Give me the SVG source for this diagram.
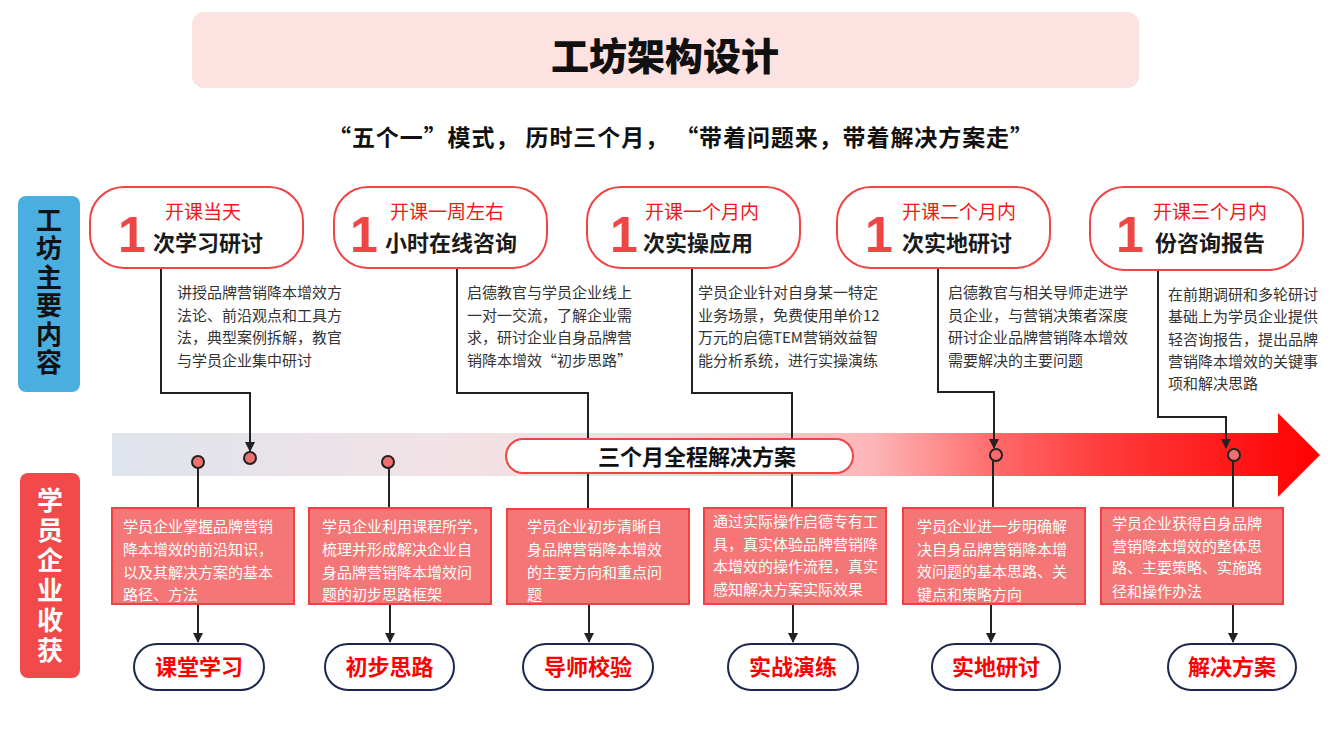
<svg xmlns="http://www.w3.org/2000/svg" width="1330" height="748" viewBox="0 0 1330 748">
<defs>
<linearGradient id="band" gradientUnits="userSpaceOnUse" x1="112" y1="0" x2="1320" y2="0">
<stop offset="0" stop-color="#dfe4ec"/>
<stop offset="0.27" stop-color="#f1e2e6"/>
<stop offset="0.45" stop-color="#f5dadd"/>
<stop offset="0.63" stop-color="#fdb5b8"/>
<stop offset="0.735" stop-color="#ff6868"/>
<stop offset="0.82" stop-color="#ff3c3c"/>
<stop offset="1" stop-color="#ff0000"/>
</linearGradient>
<marker id="arr" viewBox="0 0 10 10" refX="9" refY="5" markerWidth="10" markerHeight="10" markerUnits="userSpaceOnUse" orient="auto">
<path d="M0,0 L10,5 L0,10 z" fill="#222"/>
</marker>
<style>
.cjk{font-family:"Noto Sans CJK SC","Noto Sans",sans-serif}
.topbox{fill:#fff;stroke:#f04545;stroke-width:2}
.one{font-family:"Liberation Sans",Arial,sans-serif;font-weight:700;font-size:50px;fill:#f04545}
.when{font-size:19px;fill:#f01818;font-weight:400}
.what{font-size:22px;font-weight:700;fill:#1a1a1a}
.desc{font-size:15px;fill:#333}
.bbox{fill:#f47676;stroke:#f04040;stroke-width:2}
.btxt{font-size:15px;fill:#fff}
.oval{fill:#fff;stroke:#1c2750;stroke-width:2}
.otxt{font-size:22px;font-weight:700;fill:#f00;text-anchor:middle}
.con{fill:none;stroke:#222;stroke-width:2}
.dot{fill:#f07070;stroke:#222;stroke-width:2}
.side{font-size:26px;font-weight:700;writing-mode:vertical-rl;text-orientation:upright}
</style>
</defs>

<g id="title">
<rect x="192" y="12" width="947" height="76" rx="12" fill="#fde2e2"/>
<text class="cjk" x="665" y="70" font-size="38" font-weight="900" text-anchor="middle" fill="#111">工坊架构设计</text>
</g>
<g id="subtitle">
<text class="cjk" x="328" y="146" font-size="23" font-weight="700" fill="#111" textLength="705" lengthAdjust="spacing">“五个一”模式， 历时三个月， “带着问题来，带着解决方案走”</text>
</g>

<g id="label-top">
<rect x="18" y="196" width="62" height="196" rx="8" fill="#4aaee0"/>
<text class="cjk side" x="49" y="207" letter-spacing="2.5" fill="#111">工坊主要内容</text>
</g>
<g id="label-bottom">
<rect x="20" y="473" width="60" height="205" rx="8" fill="#f24a4a"/>
<text class="cjk side" x="50" y="487" letter-spacing="4" fill="#fff">学员企业收获</text>
</g>

<g id="band-arrow">
<polygon points="112,433 1278,433 1278,413 1320,455 1278,497 1278,476 112,476" fill="url(#band)"/>
</g>

<g id="connectors">
<path class="con" d="M161,268 V393 H250 V451" marker-end="url(#arr)"/>
<path class="con" d="M457,268 V393 H588 V508"/>
<path class="con" d="M692,268 V393 H792 V508"/>
<path class="con" d="M938,268 V392 H994 V448" marker-end="url(#arr)"/>
<path class="con" d="M1158,270 V417 H1226 V448" marker-end="url(#arr)"/>
<path class="con" d="M198,468 V508"/>
<path class="con" d="M389,468 V508"/>
<path class="con" d="M993,461 V508"/>
<path class="con" d="M1233,461 V508"/>
<path class="con" d="M198,604 V642" marker-end="url(#arr)"/>
<path class="con" d="M390,604 V642" marker-end="url(#arr)"/>
<path class="con" d="M589,604 V642" marker-end="url(#arr)"/>
<path class="con" d="M793,604 V642" marker-end="url(#arr)"/>
<path class="con" d="M991,604 V642" marker-end="url(#arr)"/>
<path class="con" d="M1233,604 V642" marker-end="url(#arr)"/>
<circle class="dot" cx="198" cy="462" r="6"/>
<circle class="dot" cx="250" cy="458" r="6"/>
<circle class="dot" cx="388" cy="462" r="6"/>
<circle cx="996" cy="455" r="6" fill="none" stroke="#222" stroke-width="2"/>
<circle class="dot" cx="1234" cy="455" r="6"/>
</g>

<g id="center-label">
<rect x="506" y="439" width="347" height="34" rx="17" fill="#fff" stroke="#f04545" stroke-width="2"/>
<text class="cjk" x="697" y="465" font-size="22" font-weight="700" text-anchor="middle" fill="#111">三个月全程解决方案</text>
</g>

<g id="top1">
<rect class="topbox" x="90" y="187" width="213" height="81" rx="34"/>
<text class="one" x="118" y="252">1</text>
<text class="cjk when" x="165" y="219">开课当天</text>
<text class="cjk what" x="153" y="251">次学习研讨</text>
<text class="cjk desc"><tspan x="177" y="298">讲授品牌营销降本增效方</tspan><tspan x="177" y="320.5">法论、前沿观点和工具方</tspan><tspan x="177" y="343">法，典型案例拆解，教官</tspan><tspan x="177" y="365.5">与学员企业集中研讨</tspan></text>
</g>
<g id="top2">
<rect class="topbox" x="334" y="187" width="213" height="81" rx="34"/>
<text class="one" x="350" y="252">1</text>
<text class="cjk when" x="390" y="219">开课一周左右</text>
<text class="cjk what" x="385" y="251">小时在线咨询</text>
<text class="cjk desc"><tspan x="467" y="298">启德教官与学员企业线上</tspan><tspan x="467" y="320.5">一对一交流，了解企业需</tspan><tspan x="467" y="343">求，研讨企业自身品牌营</tspan><tspan x="467" y="365.5">销降本增效“初步思路”</tspan></text>
</g>
<g id="top3">
<rect class="topbox" x="587" y="187" width="213" height="81" rx="34"/>
<text class="one" x="610" y="252">1</text>
<text class="cjk when" x="645" y="219">开课一个月内</text>
<text class="cjk what" x="643" y="251">次实操应用</text>
<text class="cjk desc"><tspan x="698" y="298">学员企业针对自身某一特定</tspan><tspan x="698" y="320.5">业务场景，免费使用单价12</tspan><tspan x="698" y="343">万元的启德TEM营销效益智</tspan><tspan x="698" y="365.5">能分析系统，进行实操演练</tspan></text>
</g>
<g id="top4">
<rect class="topbox" x="837" y="187" width="213" height="81" rx="34"/>
<text class="one" x="865" y="252">1</text>
<text class="cjk when" x="902" y="219">开课二个月内</text>
<text class="cjk what" x="902" y="251">次实地研讨</text>
<text class="cjk desc"><tspan x="948" y="298">启德教官与相关导师走进学</tspan><tspan x="948" y="320.5">员企业，与营销决策者深度</tspan><tspan x="948" y="343">研讨企业品牌营销降本增效</tspan><tspan x="948" y="365.5">需要解决的主要问题</tspan></text>
</g>
<g id="top5">
<rect class="topbox" x="1090" y="187" width="213" height="83" rx="34"/>
<text class="one" x="1116" y="252">1</text>
<text class="cjk when" x="1153" y="219">开课三个月内</text>
<text class="cjk what" x="1155" y="251">份咨询报告</text>
<text class="cjk desc"><tspan x="1168" y="300">在前期调研和多轮研讨</tspan><tspan x="1168" y="322">基础上为学员企业提供</tspan><tspan x="1168" y="345">轻咨询报告，提出品牌</tspan><tspan x="1168" y="367">营销降本增效的关键事</tspan><tspan x="1168" y="389">项和解决思路</tspan></text>
</g>

<g id="gain1">
<rect class="bbox" x="112" y="508" width="182" height="96"/>
<text class="cjk btxt"><tspan x="123" y="532">学员企业掌握品牌营销</tspan><tspan x="123" y="555">降本增效的前沿知识，</tspan><tspan x="123" y="578">以及其解决方案的基本</tspan><tspan x="123" y="600">路径、方法</tspan></text>
</g>
<g id="gain2">
<rect class="bbox" x="309" y="508" width="182" height="96"/>
<text class="cjk btxt"><tspan x="322" y="532">学员企业利用课程所学，</tspan><tspan x="322" y="555">梳理并形成解决企业自</tspan><tspan x="322" y="578">身品牌营销降本增效问</tspan><tspan x="322" y="600">题的初步思路框架</tspan></text>
</g>
<g id="gain3">
<rect class="bbox" x="507" y="509" width="182" height="95"/>
<text class="cjk btxt"><tspan x="527" y="532">学员企业初步清晰自</tspan><tspan x="527" y="555">身品牌营销降本增效</tspan><tspan x="527" y="578">的主要方向和重点问</tspan><tspan x="527" y="600">题</tspan></text>
</g>
<g id="gain4">
<rect class="bbox" x="704" y="508" width="182" height="96"/>
<text class="cjk btxt"><tspan x="713" y="527">通过实际操作启德专有工</tspan><tspan x="713" y="550">具，真实体验品牌营销降</tspan><tspan x="713" y="572">本增效的操作流程，真实</tspan><tspan x="713" y="595">感知解决方案实际效果</tspan></text>
</g>
<g id="gain5">
<rect class="bbox" x="903" y="508" width="182" height="96"/>
<text class="cjk btxt"><tspan x="917" y="532">学员企业进一步明确解</tspan><tspan x="917" y="555">决自身品牌营销降本增</tspan><tspan x="917" y="577">效问题的基本思路、关</tspan><tspan x="917" y="600">键点和策略方向</tspan></text>
</g>
<g id="gain6">
<rect class="bbox" x="1101" y="508" width="182" height="96"/>
<text class="cjk btxt"><tspan x="1112" y="529">学员企业获得自身品牌</tspan><tspan x="1112" y="552">营销降本增效的整体思</tspan><tspan x="1112" y="573">路、主要策略、实施路</tspan><tspan x="1112" y="597">径和操作办法</tspan></text>
</g>

<g id="oval1"><rect class="oval" x="134" y="644" width="130" height="46" rx="23"/><text class="cjk otxt" x="199" y="675">课堂学习</text></g>
<g id="oval2"><rect class="oval" x="325" y="644" width="129" height="46" rx="23"/><text class="cjk otxt" x="389.5" y="675">初步思路</text></g>
<g id="oval3"><rect class="oval" x="523" y="644" width="130" height="46" rx="23"/><text class="cjk otxt" x="588" y="675">导师校验</text></g>
<g id="oval4"><rect class="oval" x="728" y="644" width="130" height="46" rx="23"/><text class="cjk otxt" x="793" y="675">实战演练</text></g>
<g id="oval5"><rect class="oval" x="932" y="644" width="128" height="46" rx="23"/><text class="cjk otxt" x="996" y="675">实地研讨</text></g>
<g id="oval6"><rect class="oval" x="1168" y="644" width="128" height="46" rx="23"/><text class="cjk otxt" x="1232" y="675">解决方案</text></g>
</svg>
